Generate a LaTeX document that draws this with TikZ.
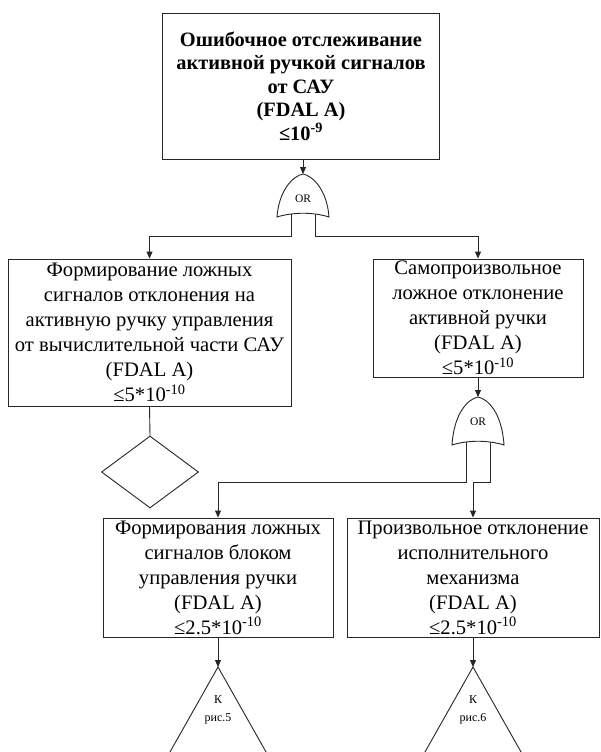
\documentclass[tikz,border=0pt]{standalone}
\usepackage{fontspec}
\setmainfont{Liberation Serif}
\usetikzlibrary{arrows.meta,shapes.geometric}

% OR gate: name, x of apex, y of apex, height of the side tips
\newcommand{\orgate}[4]{%
  \coordinate (#1-in) at (#2,#3);
  \coordinate (#1-l) at (#2-12,#3+#4-3);
  \coordinate (#1-r) at (#2+12,#3+#4-3);
  \draw[gateline] (#2-26,#3+#4)
    .. controls (#2-24,#3+16) and (#2-10,#3+2) .. (#2,#3)
    .. controls (#2+10,#3+2) and (#2+24,#3+16) .. (#2+26,#3+#4)
    .. controls (#2+10,#3+#4-5) and (#2-10,#3+#4-5) .. cycle;
  \node[gatetext] (#1) at (#2,#3+25) {OR};
}

\begin{document}
\begin{tikzpicture}
[x=1pt,y=-1pt,line width=0.9pt,%
  event/.style={draw=black!85,rectangle,inner sep=0pt,align=center,%
    font=\fontsize{20.6}{25}\selectfont},%
  topevent/.style={event,font=\fontsize{20.4}{23.5}\selectfont\bfseries},%
  gatetext/.style={inner sep=0pt,font=\fontsize{11.5}{13}\selectfont},%
  gateline/.style={draw=black!85,fill=white},%
  arr/.style={-{Triangle[length=7pt,width=6pt]},draw=black!85},%
  link/.style={draw=black!85}]
\useasboundingbox[fill=white] (0,0) rectangle (600,752);

\node[topevent,minimum width=277,minimum height=146] (top) at (301,86)
  {Ошибочное отслеживание\\ активной ручкой сигналов\\ от САУ\\ (FDAL A)\\ ≤10\textsuperscript{-9}};

\orgate{orA}{303}{174}{43}
\draw[arr] (top.south -| orA-in) -- (orA-in);

\node[event,minimum width=283,minimum height=147] (fail1) at (149.5,332.5)
  {Формирование ложных\\ сигналов отклонения на\\ активную ручку управления\\ от вычислительной части САУ\\ (FDAL A)\\ ≤5*10\textsuperscript{-10}};
\node[event,minimum width=210,minimum height=118] (fail2) at (478,318)
  {Самопроизвольное\\ ложное отклонение\\ активной ручки\\ (FDAL A)\\ ≤5*10\textsuperscript{-10}};

\coordinate (busA) at (0,236);
\draw[arr] (orA-l) -- (orA-l |- busA) -| (fail1.north);
\draw[arr] (orA-r) -- (orA-r |- busA) -| (fail2.north);

\node[draw=black!85,diamond,inner sep=0pt,minimum width=97,minimum height=72] (undev) at (150,472) {};
\draw[link] (fail1.south) -- (undev.north);

\orgate{orB}{478}{397}{48}
\draw[arr] (fail2.south) -- (orB-in);

\node[event,minimum width=230,minimum height=119] (fail3) at (218,577.5)
  {Формирования ложных\\ сигналов блоком\\ управления ручки\\ (FDAL A)\\ ≤2.5*10\textsuperscript{-10}};
\node[event,minimum width=252,minimum height=119] (fail4) at (473,577.5)
  {Произвольное отклонение\\ исполнительного\\ механизма\\ (FDAL A)\\ ≤2.5*10\textsuperscript{-10}};

\coordinate (busB) at (0,482);
\draw[arr] (orB-l) -- (orB-l |- busB) -| (fail3.north);
\draw[arr] (orB-r) -- (orB-r |- busB) -| (fail4.north);

% transfer triangles
\coordinate (trA) at (218,667);
\coordinate (trB) at (473,667);
\draw[arr] (fail3.south) -- (trA);
\draw[arr] (fail4.south) -- (trB);
\draw[link] ([shift={(-52,92)}]trA) -- (trA) -- ([shift={(52,92)}]trA);
\draw[link] ([shift={(-52,92)}]trB) -- (trB) -- ([shift={(52,92)}]trB);
\node[align=center,inner sep=0pt,font=\fontsize{12}{18}\selectfont] (refA) at (218,710)
  {К\\ рис.5};
\node[align=center,inner sep=0pt,font=\fontsize{12}{18}\selectfont] (refB) at (473,710)
  {К\\ рис.6};
\end{tikzpicture}
\end{document}
